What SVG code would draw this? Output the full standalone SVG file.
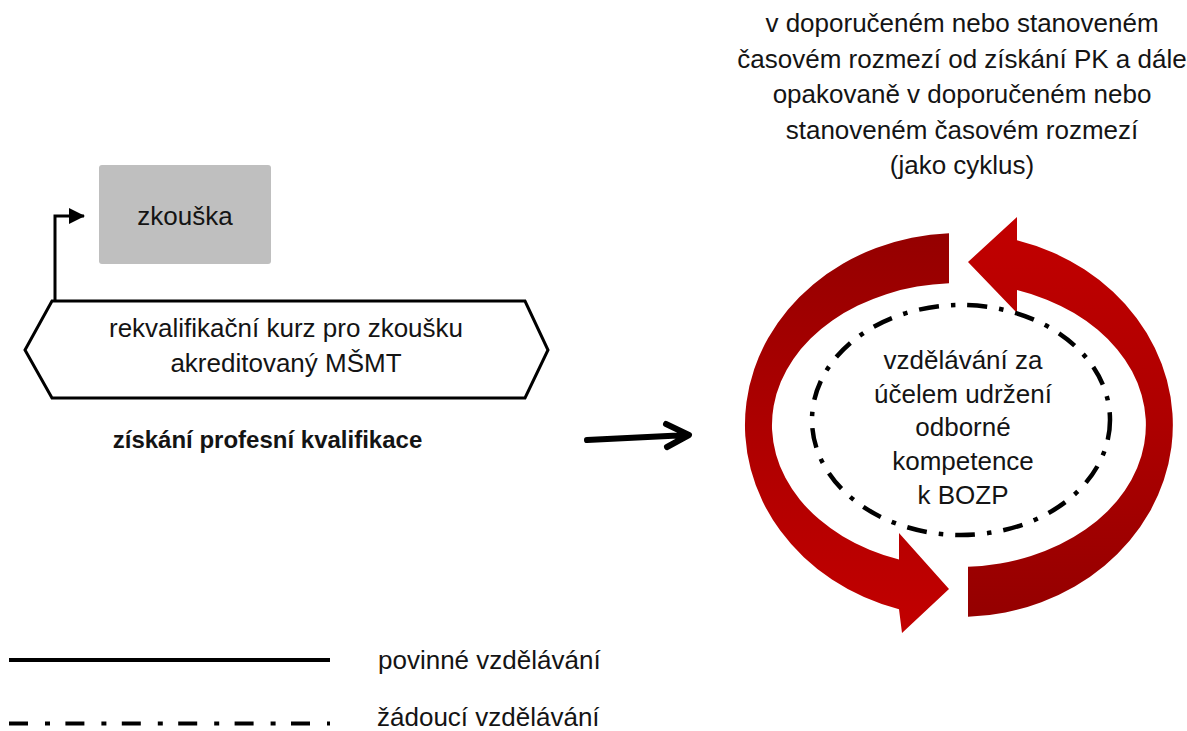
<svg xmlns="http://www.w3.org/2000/svg" width="1187" height="731" viewBox="0 0 1187 731">
<style>
text{font-family:"Liberation Sans",Arial,sans-serif;fill:#141414;}
.t26{font-size:26px;}
.c{text-anchor:middle;}
.b{font-weight:bold;font-size:24px;}
.ln{fill:none;stroke:#000;stroke-width:3;}
.dd{fill:none;stroke:#000;stroke-width:4;}
</style>
<defs>
<linearGradient id="gL" x1="0" y1="0" x2="0" y2="1">
<stop offset="0" stop-color="#950000"/>
<stop offset="0.5" stop-color="#AE0000"/>
<stop offset="1" stop-color="#C20000"/>
</linearGradient>
<linearGradient id="gR" x1="0" y1="0" x2="0" y2="1">
<stop offset="0" stop-color="#C20000"/>
<stop offset="0.5" stop-color="#AE0000"/>
<stop offset="1" stop-color="#950000"/>
</linearGradient>
<marker id="ah" viewBox="0 0 16 16" refX="15" refY="8" markerWidth="16" markerHeight="16" markerUnits="userSpaceOnUse" orient="auto">
<path d="M0,0 L16,8 L0,16 Z" fill="#000"/>
</marker>
</defs>

<g id="top-text">
<text class="t26 c" x="962" y="32">v doporučeném nebo stanoveném</text>
<text class="t26 c" x="962" y="67.5">časovém rozmezí od získání PK a dále</text>
<text class="t26 c" x="962" y="103">opakovaně v doporučeném nebo</text>
<text class="t26 c" x="962" y="138.5">stanoveném časovém rozmezí</text>
<text class="t26 c" x="962" y="174">(jako cyklus)</text>
</g>

<g id="node-zkouska">
<rect x="99" y="165" width="172" height="99" rx="3" fill="#BFBFBF"/>
<text class="t26 c" x="185" y="225">zkouška</text>
</g>

<g id="node-kurz">
<path d="M52,301 L525,301 L548,350 L525,398 L52,398 L25,350 Z" fill="#fff" stroke="#000" stroke-width="3"/>
<text class="t26 c" x="286" y="337">rekvalifikační kurz pro zkoušku</text>
<text class="t26 c" x="286" y="372">akreditovaný MŠMT</text>
</g>

<g id="node-pk">
<text class="b c" x="267.5" y="448">získání profesní kvalifikace</text>
</g>

<g id="connectors">
<path class="ln" d="M55,301 L55,216 L84,216" marker-end="url(#ah)"/>
<path d="M587,440 L688,435 M666,424 L689,435 L667,447" fill="none" stroke="#000" stroke-width="6" stroke-linecap="round" stroke-linejoin="round"/>
</g>

<g id="node-cycle">
<path d="M949,233.2 A214 192 0 0 0 899,609.3 L902,633 L949,589 L899,533 L899,559.5 A187 142 0 0 1 949,283.2 Z" fill="url(#gL)"/>
<path d="M968,616.8 A214 192 0 0 0 1017,240.2 L1017,217 L968,262 L1017,313 L1017,290 A187 142 0 0 1 968,566.8 Z" fill="url(#gR)"/>
<ellipse cx="961" cy="420" rx="149" ry="115" fill="none" stroke="#000" stroke-width="4.5" stroke-dasharray="20 12 4.5 12"/>
<text class="t26 c" x="963" y="369">vzdělávání za</text>
<text class="t26 c" x="963" y="403">účelem udržení</text>
<text class="t26 c" x="963" y="436">odborné</text>
<text class="t26 c" x="963" y="470">kompetence</text>
<text class="t26 c" x="963" y="504">k BOZP</text>
</g>

<g id="legend">
<line x1="9" y1="660" x2="330" y2="660" stroke="#000" stroke-width="4"/>
<text class="t26" x="378" y="669">povinné vzdělávání</text>
<line x1="9" y1="723.5" x2="330" y2="723.5" class="dd" stroke-dasharray="19 17 5 15.4"/>
<text class="t26" x="377" y="726">žádoucí vzdělávání</text>
</g>
</svg>
